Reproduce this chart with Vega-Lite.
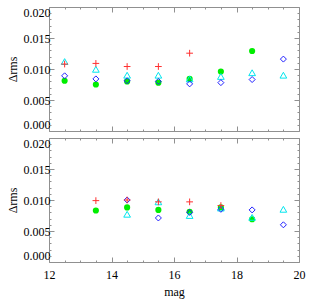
{
  "$schema": "https://vega.github.io/schema/vega-lite/v6.json",
  "background": "white",
  "padding": {"left": 5, "top": 5, "right": 12, "bottom": 5},
  "config": {
    "view": {"stroke": "#909090", "strokeWidth": 1},
    "font": "Liberation Serif",
    "axis": {"labelFont": "Liberation Serif", "titleFont": "Liberation Serif", "labelFontSize": 12, "titleFontSize": 12, "titleFontWeight": "normal", "labelColor": "#000", "titleColor": "#000", "domain": false, "grid": false, "tickColor": "#909090"}
  },
  "datasets": {
    "d": [
      {"p": "top", "s": "r", "mag": 12.5, "v": 0.0108},
      {"p": "top", "s": "r", "mag": 13.5, "v": 0.0109},
      {"p": "top", "s": "r", "mag": 14.5, "v": 0.0104},
      {"p": "top", "s": "r", "mag": 15.5, "v": 0.0104},
      {"p": "top", "s": "r", "mag": 16.5, "v": 0.01255},
      {"p": "top", "s": "c", "mag": 12.5, "v": 0.0112},
      {"p": "top", "s": "c", "mag": 13.5, "v": 0.00995},
      {"p": "top", "s": "c", "mag": 14.5, "v": 0.0090},
      {"p": "top", "s": "c", "mag": 15.5, "v": 0.0090},
      {"p": "top", "s": "c", "mag": 16.5, "v": 0.0084},
      {"p": "top", "s": "c", "mag": 17.5, "v": 0.0088},
      {"p": "top", "s": "c", "mag": 18.5, "v": 0.0094},
      {"p": "top", "s": "c", "mag": 19.5, "v": 0.0090},
      {"p": "top", "s": "b", "mag": 12.5, "v": 0.0089},
      {"p": "top", "s": "b", "mag": 13.5, "v": 0.0084},
      {"p": "top", "s": "b", "mag": 14.5, "v": 0.0081},
      {"p": "top", "s": "b", "mag": 15.5, "v": 0.0080},
      {"p": "top", "s": "b", "mag": 16.5, "v": 0.0076},
      {"p": "top", "s": "b", "mag": 17.5, "v": 0.0078},
      {"p": "top", "s": "b", "mag": 18.5, "v": 0.0083},
      {"p": "top", "s": "b", "mag": 19.5, "v": 0.0116},
      {"p": "top", "s": "g", "mag": 12.5, "v": 0.0081},
      {"p": "top", "s": "g", "mag": 13.5, "v": 0.0075},
      {"p": "top", "s": "g", "mag": 14.5, "v": 0.0080},
      {"p": "top", "s": "g", "mag": 15.5, "v": 0.0078},
      {"p": "top", "s": "g", "mag": 16.5, "v": 0.0084},
      {"p": "top", "s": "g", "mag": 17.5, "v": 0.0096},
      {"p": "top", "s": "g", "mag": 18.5, "v": 0.0129},
      {"p": "bot", "s": "r", "mag": 13.5, "v": 0.0099},
      {"p": "bot", "s": "r", "mag": 14.5, "v": 0.0100},
      {"p": "bot", "s": "r", "mag": 15.5, "v": 0.0097},
      {"p": "bot", "s": "r", "mag": 16.5, "v": 0.0097},
      {"p": "bot", "s": "r", "mag": 17.5, "v": 0.0091},
      {"p": "bot", "s": "c", "mag": 14.5, "v": 0.0077},
      {"p": "bot", "s": "c", "mag": 15.5, "v": 0.0097},
      {"p": "bot", "s": "c", "mag": 16.5, "v": 0.0075},
      {"p": "bot", "s": "c", "mag": 17.5, "v": 0.0087},
      {"p": "bot", "s": "c", "mag": 18.5, "v": 0.0072},
      {"p": "bot", "s": "c", "mag": 19.5, "v": 0.0085},
      {"p": "bot", "s": "b", "mag": 14.5, "v": 0.0100},
      {"p": "bot", "s": "b", "mag": 15.5, "v": 0.0071},
      {"p": "bot", "s": "b", "mag": 16.5, "v": 0.0080},
      {"p": "bot", "s": "b", "mag": 17.5, "v": 0.0085},
      {"p": "bot", "s": "b", "mag": 18.5, "v": 0.0084},
      {"p": "bot", "s": "b", "mag": 19.5, "v": 0.0060},
      {"p": "bot", "s": "g", "mag": 13.5, "v": 0.0083},
      {"p": "bot", "s": "g", "mag": 14.5, "v": 0.0088},
      {"p": "bot", "s": "g", "mag": 15.5, "v": 0.0084},
      {"p": "bot", "s": "g", "mag": 16.5, "v": 0.0081},
      {"p": "bot", "s": "g", "mag": 17.5, "v": 0.0088},
      {"p": "bot", "s": "g", "mag": 18.5, "v": 0.0069}
    ]
  },
  "data": {"name": "d"},
  "spacing": 4,
  "vconcat": [
    {
      "width": 250, "height": 124,
      "transform": [{"filter": "datum.p == 'top'"}],
      "resolve": {"axis": {"x": "independent", "y": "independent"}},
      "layer": [
        {
          "transform": [{"filter": "datum.s == 'g'"}],
          "mark": {"type": "point", "shape": "circle", "filled": true, "color": "#00ee00", "size": 38, "opacity": 1},
          "encoding": {
            "x": {"field": "mag", "type": "quantitative", "scale": {"domain": [12, 20], "nice": false}, "axis": {"orient": "bottom", "labels": false, "title": null, "values": [12, 14, 16, 18, 20], "tickSize": -5}},
            "y": {"field": "v", "type": "quantitative", "scale": {"domain": [0, 0.02], "nice": false, "zero": false}, "axis": {"orient": "left", "title": "Δrms", "values": [0, 0.005, 0.01, 0.015, 0.02], "format": ".3f", "tickSize": -5, "labelFlush": true, "labelPadding": 4, "titlePadding": 4}}
          }
        },
        {
          "transform": [{"filter": "datum.s == 'c'"}],
          "mark": {"type": "point", "shape": "triangle-up", "filled": false, "color": "#00e5ee", "size": 45, "strokeWidth": 1, "opacity": 1},
          "encoding": {
            "x": {"field": "mag", "type": "quantitative", "scale": {"domain": [12, 20], "nice": false}, "axis": {"orient": "bottom", "labels": false, "title": null, "values": [12.5, 13, 13.5, 14.5, 15, 15.5, 16.5, 17, 17.5, 18.5, 19, 19.5], "tickSize": -2}},
            "y": {"field": "v", "type": "quantitative", "scale": {"domain": [0, 0.02], "nice": false, "zero": false}, "axis": {"orient": "left", "labels": false, "title": null, "values": [0.001, 0.002, 0.003, 0.004, 0.006, 0.007, 0.008, 0.009, 0.011, 0.012, 0.013, 0.014, 0.016, 0.017, 0.018, 0.019], "tickSize": -2}}
          }
        },
        {
          "transform": [{"filter": "datum.s == 'b'"}],
          "mark": {"type": "point", "shape": "diamond", "filled": false, "color": "#2020ff", "size": 36, "strokeWidth": 1, "opacity": 1},
          "encoding": {
            "x": {"field": "mag", "type": "quantitative", "scale": {"domain": [12, 20], "nice": false}, "axis": {"orient": "top", "labels": false, "title": null, "values": [12, 14, 16, 18, 20], "tickSize": -5}},
            "y": {"field": "v", "type": "quantitative", "scale": {"domain": [0, 0.02], "nice": false, "zero": false}, "axis": {"orient": "right", "labels": false, "title": null, "values": [0, 0.005, 0.01, 0.015, 0.02], "tickSize": -5}}
          }
        },
        {
          "transform": [{"filter": "datum.s == 'r'"}],
          "mark": {"type": "point", "shape": "M-1,0H1M0,-1V1", "filled": false, "color": "#ff3030", "size": 45, "strokeWidth": 1, "opacity": 1},
          "encoding": {
            "x": {"field": "mag", "type": "quantitative", "scale": {"domain": [12, 20], "nice": false}, "axis": {"orient": "top", "labels": false, "title": null, "values": [12.5, 13, 13.5, 14.5, 15, 15.5, 16.5, 17, 17.5, 18.5, 19, 19.5], "tickSize": -2}},
            "y": {"field": "v", "type": "quantitative", "scale": {"domain": [0, 0.02], "nice": false, "zero": false}, "axis": {"orient": "right", "labels": false, "title": null, "values": [0.001, 0.002, 0.003, 0.004, 0.006, 0.007, 0.008, 0.009, 0.011, 0.012, 0.013, 0.014, 0.016, 0.017, 0.018, 0.019], "tickSize": -2}}
          }
        }
      ]
    },
    {
      "width": 250, "height": 124,
      "transform": [{"filter": "datum.p == 'bot'"}],
      "resolve": {"axis": {"x": "independent", "y": "independent"}},
      "layer": [
        {
          "transform": [{"filter": "datum.s == 'g'"}],
          "mark": {"type": "point", "shape": "circle", "filled": true, "color": "#00ee00", "size": 38, "opacity": 1},
          "encoding": {
            "x": {"field": "mag", "type": "quantitative", "scale": {"domain": [12, 20], "nice": false}, "axis": {"orient": "bottom", "title": "mag", "values": [12, 14, 16, 18, 20], "format": "d", "tickSize": -5, "labelFlush": false, "labelPadding": 12, "titlePadding": 6}},
            "y": {"field": "v", "type": "quantitative", "scale": {"domain": [0, 0.02], "nice": false, "zero": false}, "axis": {"orient": "left", "title": "Δrms", "values": [0, 0.005, 0.01, 0.015, 0.02], "format": ".3f", "tickSize": -5, "labelFlush": true, "labelPadding": 4, "titlePadding": 4}}
          }
        },
        {
          "transform": [{"filter": "datum.s == 'c'"}],
          "mark": {"type": "point", "shape": "triangle-up", "filled": false, "color": "#00e5ee", "size": 45, "strokeWidth": 1, "opacity": 1},
          "encoding": {
            "x": {"field": "mag", "type": "quantitative", "scale": {"domain": [12, 20], "nice": false}, "axis": {"orient": "bottom", "labels": false, "title": null, "values": [12.5, 13, 13.5, 14.5, 15, 15.5, 16.5, 17, 17.5, 18.5, 19, 19.5], "tickSize": -2}},
            "y": {"field": "v", "type": "quantitative", "scale": {"domain": [0, 0.02], "nice": false, "zero": false}, "axis": {"orient": "left", "labels": false, "title": null, "values": [0.001, 0.002, 0.003, 0.004, 0.006, 0.007, 0.008, 0.009, 0.011, 0.012, 0.013, 0.014, 0.016, 0.017, 0.018, 0.019], "tickSize": -2}}
          }
        },
        {
          "transform": [{"filter": "datum.s == 'b'"}],
          "mark": {"type": "point", "shape": "diamond", "filled": false, "color": "#2020ff", "size": 36, "strokeWidth": 1, "opacity": 1},
          "encoding": {
            "x": {"field": "mag", "type": "quantitative", "scale": {"domain": [12, 20], "nice": false}, "axis": {"orient": "top", "labels": false, "title": null, "values": [12, 14, 16, 18, 20], "tickSize": -5}},
            "y": {"field": "v", "type": "quantitative", "scale": {"domain": [0, 0.02], "nice": false, "zero": false}, "axis": {"orient": "right", "labels": false, "title": null, "values": [0, 0.005, 0.01, 0.015, 0.02], "tickSize": -5}}
          }
        },
        {
          "transform": [{"filter": "datum.s == 'r'"}],
          "mark": {"type": "point", "shape": "M-1,0H1M0,-1V1", "filled": false, "color": "#ff3030", "size": 45, "strokeWidth": 1, "opacity": 1},
          "encoding": {
            "x": {"field": "mag", "type": "quantitative", "scale": {"domain": [12, 20], "nice": false}, "axis": {"orient": "top", "labels": false, "title": null, "values": [12.5, 13, 13.5, 14.5, 15, 15.5, 16.5, 17, 17.5, 18.5, 19, 19.5], "tickSize": -2}},
            "y": {"field": "v", "type": "quantitative", "scale": {"domain": [0, 0.02], "nice": false, "zero": false}, "axis": {"orient": "right", "labels": false, "title": null, "values": [0.001, 0.002, 0.003, 0.004, 0.006, 0.007, 0.008, 0.009, 0.011, 0.012, 0.013, 0.014, 0.016, 0.017, 0.018, 0.019], "tickSize": -2}}
          }
        }
      ]
    }
  ]
}
